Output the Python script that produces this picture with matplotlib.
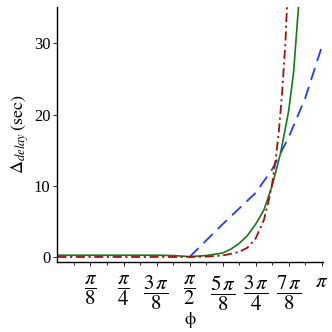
import numpy as np
import matplotlib.pyplot as plt

# values, phi given in units of pi/8
phi_green = [0, 1, 2, 3, 3.5, 4, 4.5, 5, 5.25, 5.5, 5.75, 6, 6.25, 6.5, 6.75, 7, 7.15, 7.3]
delay_green = [0.25, 0.25, 0.25, 0.25, 0.2, 0.05, 0.2, 0.55, 1.1, 1.9, 3.0, 4.6, 6.6, 10.0, 14.5, 20.5, 26.0, 35.3]

phi_red = [0, 1, 2, 3, 4, 4.5, 5, 5.5, 5.75, 6, 6.25, 6.4, 6.5, 6.6, 6.7, 6.8, 6.9, 6.95]
delay_red = [0, 0, 0, 0, 0, 0.05, 0.2, 0.7, 1.3, 2.6, 5.2, 8.0, 10.3, 13.5, 17.5, 23.0, 30.0, 35.3]

phi_blue = [4, 4.5, 5, 5.5, 6, 6.5, 7, 7.5, 8]
delay_blue = [0, 2.3, 4.6, 6.8, 9.0, 12.3, 16.8, 22.3, 29.5]

tick_labels = [r'$\dfrac{\pi}{8}$', r'$\dfrac{\pi}{4}$', r'$\dfrac{3\,\pi}{8}$', r'$\dfrac{\pi}{2}$',
               r'$\dfrac{5\,\pi}{8}$', r'$\dfrac{3\,\pi}{4}$', r'$\dfrac{7\,\pi}{8}$', r'$\pi$']

plt.rcParams['font.family'] = 'Liberation Serif'
plt.rcParams['mathtext.fontset'] = 'stix'

fig = plt.figure(figsize=(3.32, 3.32), dpi=100)
ax = fig.add_axes([0.173, 0.211, 0.80, 0.768])

u = np.pi / 8
ax.plot(np.array(phi_blue) * u, delay_blue, color='#1f3cff', lw=1.3, dashes=(7, 4))
ax.plot(np.array(phi_green) * u, delay_green, color='#177a17', lw=1.2)
ax.plot(np.array(phi_red) * u, delay_red, color='#a31010', lw=1.3, dashes=(5, 2, 1.2, 2))

ax.set_xlim(0, np.pi * 1.005)
ax.set_ylim(-0.7, 35.1)
ax.set_xticks(np.arange(1, 9) * u)
ax.set_xticklabels(tick_labels, fontsize=15)
ax.set_xticks(np.arange(1, 16, 2) * u / 2, minor=True)
ax.set_yticks([0, 10, 20, 30])
ax.tick_params(axis='y', labelsize=12, length=3, width=0.6, pad=2)
ax.tick_params(axis='x', which='major', length=3, width=0.6, pad=5)
ax.tick_params(axis='x', which='minor', length=2, width=0.6)

for s in ['top', 'right']:
    ax.spines[s].set_visible(False)
for s in ['left', 'bottom']:
    ax.spines[s].set_linewidth(1.0)

ax.set_xlabel(r'$\mathrm{\phi}$', fontsize=13, va='center')
ax.xaxis.set_label_coords(0.5, -0.228)
ax.set_ylabel(r'$\Delta_{delay}\,(\mathrm{sec})$', fontsize=13, labelpad=2)

fig.savefig('out.png', dpi=100)
